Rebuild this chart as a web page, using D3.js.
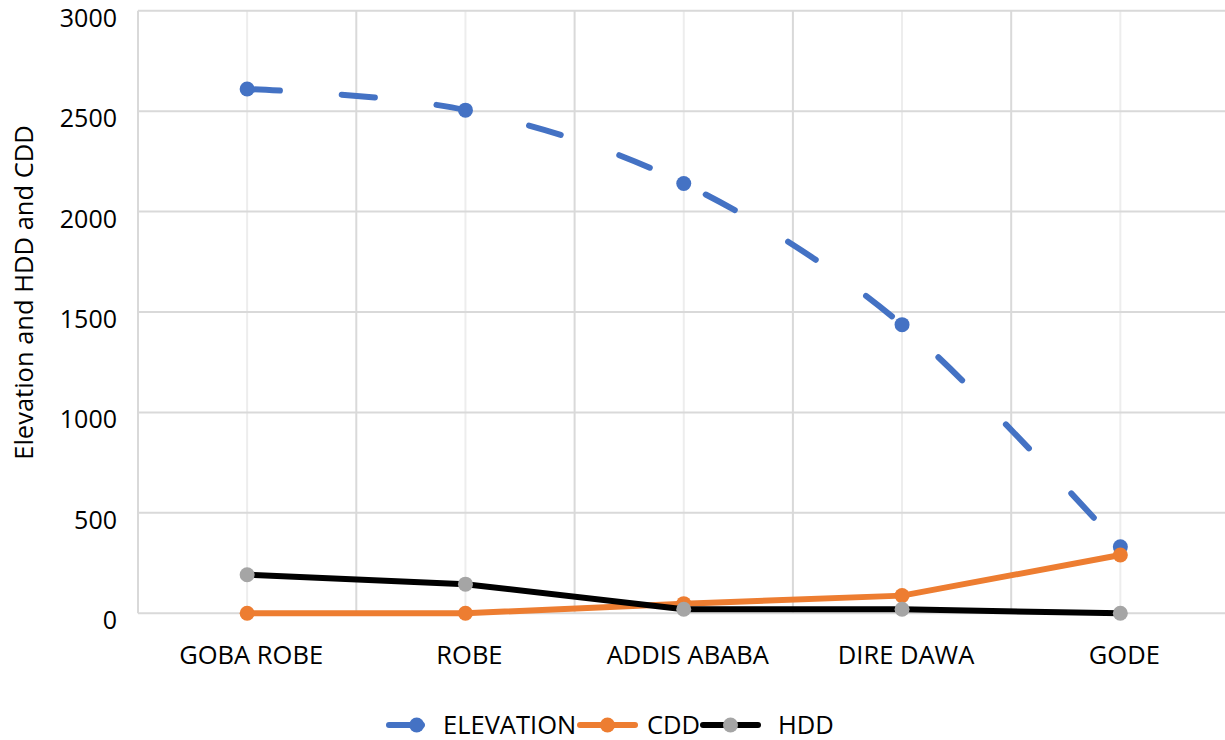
<!DOCTYPE html>
<html>
<head>
<meta charset="utf-8">
<script src="https://cdn.jsdelivr.net/npm/d3@7"></script>
<style>
  html, body { margin: 0; padding: 0; background: #fff; }
  svg { display: block; font-family: "Open Sans", "Noto Sans", sans-serif; }
</style>
</head>
<body>
<svg id="chart" width="1225" height="740"></svg>
<script>
// ---- data ----
const categories = ["GOBA ROBE", "ROBE", "ADDIS ABABA", "DIRE DAWA", "GODE"];
const elevation = [2610, 2505, 2140, 1437, 331];
const cdd = [0, 0, 48, 88, 290];
const hdd = [192, 145, 20, 20, 0];
const yTicks = [0, 500, 1000, 1500, 2000, 2500, 3000];
const seriesNames = ["ELEVATION", "CDD", "HDD"];
const yTitle = "Elevation and HDD and CDD";

// ---- layout ----
const svg = d3.select("#chart");
const plot = { left: 138, right: 1229.5, top: 10.7, bottom: 613.3 };

const x = d3.scaleBand().domain(categories).range([plot.left, plot.right]);
const y = d3.scaleLinear().domain([0, 3000]).range([plot.bottom, plot.top]);
const cx = c => x(c) + x.bandwidth() / 2;

const grid = svg.append("g");
// vertical center lines (lighter)
grid.selectAll(".vc").data(categories).join("line")
  .attr("x1", d => cx(d)).attr("x2", d => cx(d))
  .attr("y1", plot.top).attr("y2", plot.bottom)
  .attr("stroke", "#ededed").attr("stroke-width", 2);
// vertical boundary lines
grid.selectAll(".vb").data(categories).join("line")
  .attr("x1", d => x(d)).attr("x2", d => x(d))
  .attr("y1", plot.top).attr("y2", plot.bottom)
  .attr("stroke", "#d9d9d9").attr("stroke-width", 2);
// horizontal grid
grid.selectAll(".h").data(yTicks).join("line")
  .attr("x1", plot.left).attr("x2", plot.right)
  .attr("y1", d => y(d)).attr("y2", d => y(d))
  .attr("stroke", "#d9d9d9").attr("stroke-width", 2);

// y tick labels
svg.append("g").selectAll("text").data(yTicks).join("text")
  .attr("x", 117).attr("y", d => y(d) + 16)
  .attr("text-anchor", "end")
  .attr("font-size", 25).attr("fill", "#000")
  .text(d => d);

// x category labels
svg.append("g").selectAll("text").data(categories).join("text")
  .attr("x", d => cx(d) + 4).attr("y", 664)
  .attr("text-anchor", "middle")
  .attr("font-size", 25.5).attr("fill", "#000")
  .text(d => d);

// y title
svg.append("text")
  .attr("transform", "translate(33,292.5) rotate(-90)")
  .attr("text-anchor", "middle")
  .attr("font-size", 25.5).attr("fill", "#000")
  .text(yTitle);

// ---- series ----
const series = [
  { name: seriesNames[0], values: elevation, line: "#4472C4", marker: "#4472C4", dash: "33,62", curve: d3.curveCardinal.tension(0) },
  { name: seriesNames[1], values: cdd, line: "#ED7D31", marker: "#ED7D31", dash: null, curve: d3.curveLinear },
  { name: seriesNames[2], values: hdd, line: "#000000", marker: "#A5A5A5", dash: null, curve: d3.curveLinear }
];

series.forEach(s => {
  const pts = categories.map((c, i) => [cx(c), y(s.values[i])]);
  const g = svg.append("g");
  g.append("path")
    .attr("d", d3.line().curve(s.curve)(pts))
    .attr("fill", "none")
    .attr("stroke", s.line)
    .attr("stroke-width", 6)
    .attr("stroke-linecap", "round")
    .attr("stroke-linejoin", "round")
    .attr("stroke-dasharray", s.dash);
  g.selectAll("circle").data(pts).join("circle")
    .attr("cx", d => d[0]).attr("cy", d => d[1]).attr("r", 7.5)
    .attr("fill", s.marker);
});

// ---- legend ----
const legendSym = [389, 580, 703];
const legendTxt = [443, 647, 778];
const ly = 725;
series.forEach((s, i) => {
  const g = svg.append("g");
  g.append("line")
    .attr("x1", legendSym[i]).attr("x2", legendSym[i] + 55)
    .attr("y1", ly).attr("y2", ly)
    .attr("stroke", s.line).attr("stroke-width", 6)
    .attr("stroke-linecap", "round")
    .attr("stroke-dasharray", s.dash);
  g.append("circle")
    .attr("cx", i === 0 ? 416.7 : legendSym[i] + 27.5).attr("cy", ly).attr("r", 7.5)
    .attr("fill", s.marker);
  g.append("text")
    .attr("x", legendTxt[i]).attr("y", ly + 8.5)
    .attr("font-size", 25.5).attr("fill", "#000")
    .text(s.name);
});
</script>
</body>
</html>
